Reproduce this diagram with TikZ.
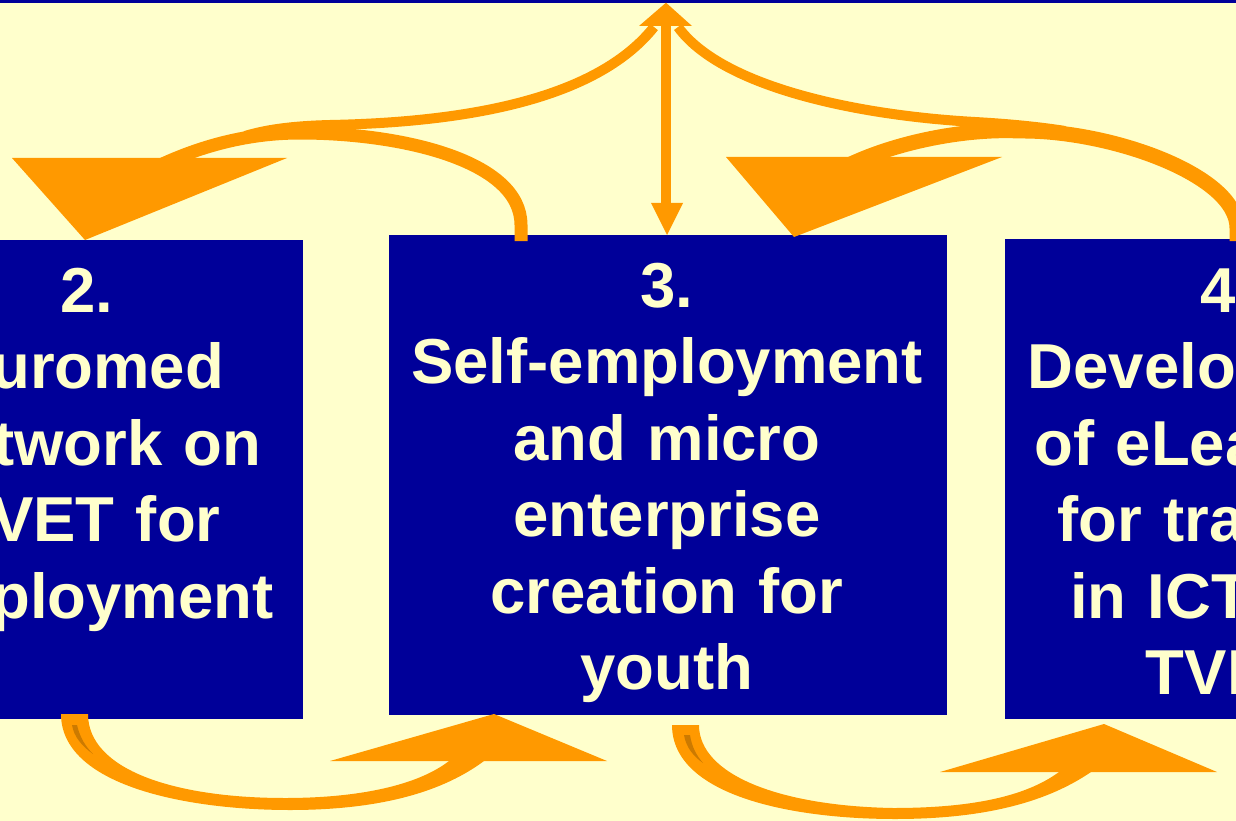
\documentclass[tikz,border=0pt]{standalone}
\usepackage{fontspec}
\setmainfont{Liberation Sans}
\definecolor{bg}{HTML}{FFFFCC}
\definecolor{navy}{HTML}{000099}
\definecolor{org}{HTML}{FF9900}
\definecolor{orgdark}{HTML}{CC7A00}
\begin{document}
\begin{tikzpicture}[x=1pt,y=-1pt,
  box/.style={fill=navy, draw=none, inner sep=0pt, outer sep=0pt},
  lbl/.style={text=bg, font=\fontsize{63.5}{76.5}\selectfont\bfseries, align=center, text width=700pt, inner sep=0pt, anchor=base},
  band/.style={draw=org, line width=13pt},
  thin/.style={draw=org, line width=10pt},
  head/.style={fill=org, draw=none},
  under/.style={fill=orgdark, draw=none}]
\useasboundingbox (0,0) rectangle (1236,821);
\clip (0,0) rectangle (1236,821);
\fill[bg] (0,0) rectangle (1236,821);
\fill[navy] (0,0) rectangle (1236,3);

% boxes
\node[box, minimum width=557pt, minimum height=479pt] (b2) at (24.5,479.5) {};
\node[box, minimum width=558pt, minimum height=480pt] (b3) at (668,475) {};
\node[box, minimum width=557pt, minimum height=480pt] (b4) at (1283.5,479) {};

% texts
\node[lbl] (t2) at (86.5,312) {2.\\Euromed\\Network on\\TVET for\\employment};
\node[lbl] (t3) at (667,307) {3.\\Self-employment\\and micro\\enterprise\\creation for\\youth};
\node[lbl] (t4) at (1227,312) {4.\\Development\\of eLearning\\for training\\in ICT and\\TVET};

% vertical double arrow
\coordinate (vt) at (666,24);
\coordinate (vb) at (666,205);
\draw[thin] (vt) -- (vb);
\fill[head] (639,26) -- (666,2.7) -- (692,26) -- cycle;
\fill[head] (651,203) -- (683,203) -- (667,235) -- cycle;

% top-left curved arrow
\draw[band] (521,241) -- (521,225) .. controls (521,160) and (400,133) .. (300,133) .. controls (250,133) and (200,145) .. (150,170);
\draw[thin] (654,27) .. controls (600,95) and (480,122) .. (330,125) .. controls (290,126) and (265,130) .. (245,136);
\fill[head] (12,158) -- (287,158) -- (85,240) -- cycle;

% top-right curved arrow
\draw[band, line width=15pt] (1237,241) -- (1237,228) .. controls (1237,175) and (1110,130) .. (1020,131) .. controls (960,128) and (880,145) .. (830,175);
\draw[thin] (678,27) .. controls (720,85) and (850,115) .. (975,122) .. controls (1010,124) and (1040,127) .. (1065,131);
\fill[head] (726,157) -- (1002,157) -- (794,237) -- cycle;

% bottom-left curved arrow
\fill[org] (61,714) .. controls (61,785) and (185,810) .. (290,810) .. controls (385,810) and (445,790) .. (484,761) -- (449,761) .. controls (418,785) and (360,798) .. (285,798) .. controls (175,798) and (88,770) .. (88,714) -- cycle;
\fill[under] (72,725) -- (77,725) .. controls (80,738) and (86,747) .. (93,754) .. controls (82,746) and (74,737) .. (72,725) -- cycle;
\fill[head] (330,761) -- (607,761) -- (494,714) -- cycle;

% bottom-right curved arrow
\fill[org] (672,725) .. controls (672,795) and (790,819) .. (895,819) .. controls (990,819) and (1050,800) .. (1091,772) -- (1059,772) .. controls (1025,797) and (970,808) .. (893,808) .. controls (780,806) and (699,775) .. (699,725) -- cycle;
\fill[under] (684,735) -- (690,735) .. controls (692,748) and (697,756) .. (703,763) .. controls (693,756) and (686,747) .. (684,735) -- cycle;
\fill[head] (940,772) -- (1217,772) -- (1104,724) -- cycle;
\end{tikzpicture}
\end{document}
